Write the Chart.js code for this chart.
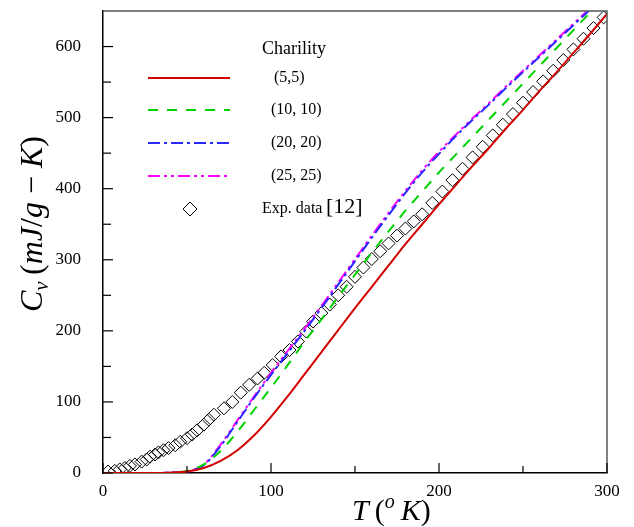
<!DOCTYPE html>
<html>
<head>
<meta charset="utf-8">
<script src="https://cdn.jsdelivr.net/npm/chart.js@4.4.0/dist/chart.umd.min.js"></script>
<style>
  body { margin: 0; background: #fff; }
  #grafico { display: block; }
</style>
</head>
<body>
<canvas id="grafico" width="634" height="527"></canvas>
<script>
// temperaturas (K) de las curvas teoricas
const temps = [0, 10, 20, 30, 40, 50, 60, 70, 80, 90, 100, 110, 120, 130, 140, 150,
  160, 170, 180, 190, 200, 210, 220, 230, 240, 250, 260, 270, 280, 290, 300];

const cv55 = [0, 0, 0, 0, 0.5, 2, 7, 17, 32, 53, 79, 108, 139, 170, 201, 232,
  262, 292, 322, 350, 378, 405, 432, 458, 485, 511, 538, 564, 591, 618, 646];
const cv1010 = [0, 0, 0, 0, 0.5, 3, 12, 31, 58, 89, 120, 152, 185, 216, 248, 279,
  310, 340, 369, 396, 423, 448, 473, 498, 523, 548, 573, 598, 623, 648, 673];
const cv2020 = [0, 0, 0, 0, 0.5, 2, 11, 38, 72, 106, 138, 169, 200, 232, 265, 298,
  331, 363, 394, 423, 449, 474, 497, 519, 542, 564, 586, 608, 630, 652, 674];
const cv2525 = [0, 0, 0, 0, 0.5, 2, 12, 40, 74, 108, 141, 172, 203, 235, 268, 301,
  334, 366, 397, 426, 452, 476, 499, 521, 544, 566, 588, 610, 632, 654, 676];

// datos experimentales [12]
const expT = [3, 7, 10, 13, 16, 19, 23, 26, 28, 31, 33, 36, 39, 43, 46, 50, 53, 56, 60, 63,
  66, 72, 77, 82, 87, 92, 96, 101, 106, 111, 116, 121, 125, 130, 135, 140, 145, 150,
  155, 160, 165, 170, 175, 180, 185, 190, 196, 202, 208, 214, 220, 226, 232, 238, 244,
  250, 256, 262, 268, 274, 280, 286, 292, 298];
const expCv = [2, 3, 5, 7, 10, 12, 16, 19, 23, 26, 29, 32, 35, 39, 44, 49, 54, 60, 68, 75,
  82, 91, 100, 113, 124, 133, 141, 152, 164, 173, 185, 199, 213, 225, 237, 250, 262, 276,
  289, 301, 312, 323, 334, 344, 354, 364, 380, 396, 412, 428, 444, 459, 475, 490, 505,
  521, 536, 551, 566, 581, 596, 611, 626, 641];

const xMajor = [0, 100, 200, 300];
const xMinor = [50, 150, 250];
const yMajor = [0, 100, 200, 300, 400, 500, 600];
const yMinor = [50, 150, 250, 350, 450, 550];

const serif = "'Liberation Serif', 'DejaVu Serif', serif";

const pares = (xs, ys) => xs.map((x, i) => ({ x: x, y: ys[i] }));

const series = [
  { label: '(5,5)', data: cv55, color: 'rgb(210,0,0)', dash: [] },
  { label: '(10, 10)', data: cv1010, color: 'rgb(0,210,0)', dash: [10, 9] },
  { label: '(20, 20)', data: cv2020, color: 'rgb(40,40,255)', dash: [12, 4, 3, 4] },
  { label: '(25, 25)', data: cv2525, color: 'rgb(255,0,255)', dash: [12, 4, 3, 4, 3, 4] },
];

const datasets = series.map(s => ({
  label: s.label,
  data: pares(temps, s.data),
  showLine: true,
  borderColor: s.color,
  borderWidth: 2,
  borderDash: s.dash,
  pointRadius: 0,
  fill: false,
  cubicInterpolationMode: 'monotone',
}));
datasets.push({
  label: 'Exp. data [12]',
  data: pares(expT, expCv),
  showLine: false,
  pointStyle: 'rectRot',
  pointRadius: 6.5,
  pointBorderColor: '#000',
  pointBackgroundColor: 'rgba(0,0,0,0)',
  pointBorderWidth: 1,
});

// marco, ticks hacia adentro, leyenda y titulos de ejes
const extras = {
  id: 'extras',
  afterDatasetsDraw(chart) {
    const { ctx, chartArea: a, scales: { x, y } } = chart;
    ctx.save();
    ctx.strokeStyle = '#555';
    ctx.lineWidth = 1.5;
    ctx.beginPath();
    ctx.moveTo(a.left, a.top); ctx.lineTo(a.right, a.top); ctx.lineTo(a.right, a.bottom);
    ctx.stroke();

    ctx.strokeStyle = '#000';
    ctx.lineWidth = 1.2;
    const tick = (x1, y1, x2, y2) => { ctx.beginPath(); ctx.moveTo(x1, y1); ctx.lineTo(x2, y2); ctx.stroke(); };
    xMajor.forEach(v => { const p = x.getPixelForValue(v); tick(p, a.bottom, p, a.bottom - 10); });
    xMinor.forEach(v => { const p = x.getPixelForValue(v); tick(p, a.bottom, p, a.bottom - 7); });
    yMajor.forEach(v => { const p = y.getPixelForValue(v); tick(a.left, p, a.left + 10, p); });
    yMinor.forEach(v => { const p = y.getPixelForValue(v); tick(a.left, p, a.left + 8, p); });

    // leyenda
    ctx.fillStyle = '#000';
    ctx.textBaseline = 'middle';
    ctx.font = '18px ' + serif;
    ctx.fillText('Charility', 262, 49);
    const filas = [78, 110, 143, 176];
    chart.data.datasets.slice(0, 4).forEach((ds, i) => {
      ctx.save();
      ctx.strokeStyle = ds.borderColor;
      ctx.lineWidth = 2;
      ctx.setLineDash(ds.borderDash);
      tick(148, filas[i], 230, filas[i]);
      ctx.restore();
      ctx.font = '16px ' + serif;
      ctx.fillText(ds.label, i === 0 ? 274 : 271, filas[i]);
    });
    ctx.beginPath();
    ctx.moveTo(190, 202); ctx.lineTo(197, 209); ctx.lineTo(190, 216); ctx.lineTo(183, 209);
    ctx.closePath();
    ctx.lineWidth = 1;
    ctx.stroke();
    ctx.font = '16px ' + serif;
    ctx.fillText('Exp. data', 262, 209);
    ctx.font = '22px ' + serif;
    ctx.fillText('[12]', 326, 207);

    // titulos de ejes con subindice y superindice
    const tramos = (partes, x0, y0) => {
      let cx = x0;
      partes.forEach(p => {
        ctx.font = p.f;
        ctx.fillText(p.t, cx, y0 + (p.dy || 0));
        cx += ctx.measureText(p.t).width;
      });
    };
    ctx.textBaseline = 'alphabetic';
    tramos([
      { t: 'T', f: 'italic 30px ' + serif },
      { t: '\u2009(', f: '30px ' + serif },
      { t: 'o', f: 'italic 20px ' + serif, dy: -12 },
      { t: '\u2009K', f: 'italic 30px ' + serif },
      { t: ')', f: '30px ' + serif },
    ], 352, 520);

    ctx.translate(42, 312);
    ctx.rotate(-Math.PI / 2);
    tramos([
      { t: 'C', f: 'italic 32px ' + serif },
      { t: 'v', f: 'italic 21px ' + serif, dy: 6 },
      { t: '\u2009(', f: '32px ' + serif },
      { t: 'mJ', f: 'italic 32px ' + serif },
      { t: '/', f: '32px ' + serif },
      { t: 'g', f: 'italic 32px ' + serif },
      { t: ' \u2212 ', f: '32px ' + serif },
      { t: 'K', f: 'italic 32px ' + serif },
      { t: ')', f: '32px ' + serif },
    ], 0, 0);
    ctx.restore();
  }
};

const sinMargen = s => { s.paddingTop = 0; s.paddingBottom = 0; };

new Chart(document.getElementById('grafico'), {
  type: 'scatter',
  data: { datasets: datasets },
  options: {
    responsive: false,
    animation: false,
    layout: { autoPadding: false, padding: { left: 0, right: 27, top: 11, bottom: 0 } },
    plugins: { legend: { display: false }, tooltip: { enabled: false } },
    scales: {
      x: {
        type: 'linear', min: 0, max: 300,
        afterFit: s => { s.height = 54; },
        grid: { display: false },
        border: { display: true, color: '#000', width: 1.5 },
        ticks: { stepSize: 100, padding: 0, color: '#000', font: { family: serif, size: 17 }, maxRotation: 0 },
      },
      y: {
        type: 'linear', min: 0, max: 650,
        afterFit: s => { s.width = 103; sinMargen(s); },
        grid: { display: false },
        border: { display: true, color: '#000', width: 1.5 },
        ticks: { stepSize: 100, includeBounds: false, padding: 14, color: '#000', font: { family: serif, size: 17 } },
      },
    },
  },
  plugins: [extras],
});
</script>
</body>
</html>
